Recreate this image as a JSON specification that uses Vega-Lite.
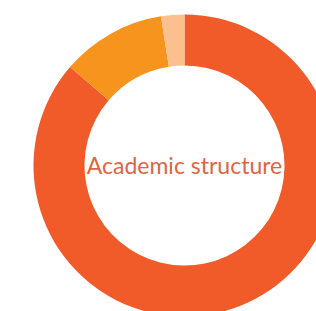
{
  "$schema": "https://vega.github.io/schema/vega-lite/v6.json",
  "width": 369,
  "height": 331,
  "autosize": "none",
  "padding": {"left": 0, "top": 0, "right": -53, "bottom": -20},
  "background": "white",
  "view": {"stroke": null},
  "layer": [
    {
      "data": {"values": [
        {"category": "A", "value": 86.3},
        {"category": "B", "value": 11.2},
        {"category": "C", "value": 2.5}
      ]},
      "mark": {"type": "arc", "innerRadius": 100, "outerRadius": 151},
      "encoding": {
        "theta": {"field": "value", "type": "quantitative", "stack": true},
        "order": {"field": "category", "type": "nominal"},
        "color": {
          "field": "category", "type": "nominal", "legend": null,
          "scale": {"domain": ["A", "B", "C"], "range": ["#F15A29", "#F7941D", "#FBC08D"]}
        }
      }
    },
    {
      "data": {"values": [{"label": "Academic structure"}]},
      "mark": {"type": "text", "font": "Lato", "fontSize": 23, "color": "#E0653F", "align": "center", "baseline": "middle", "dy": 1},
      "encoding": {"text": {"field": "label"}}
    }
  ]
}
